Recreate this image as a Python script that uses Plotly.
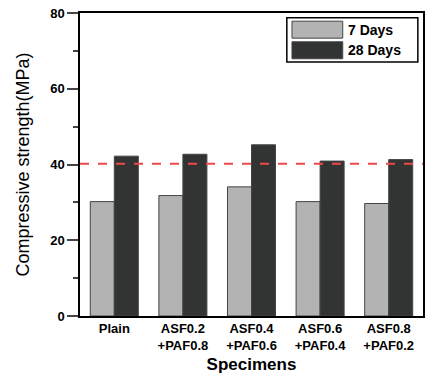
import plotly.graph_objects as go

categories = ["Plain", "ASF0.2<br>+PAF0.8", "ASF0.4<br>+PAF0.6", "ASF0.6<br>+PAF0.4", "ASF0.8<br>+PAF0.2"]
days7 = [30.2, 31.8, 34.1, 30.2, 29.7]
days28 = [42.2, 42.7, 45.2, 40.9, 41.3]
reference = 40.2
series_names = ["7 Days", "28 Days"]
colors = ["#b3b3b3", "#323333"]

fig = go.Figure()
for name, vals, col in zip(series_names, [days7, days28], colors):
    fig.add_trace(go.Bar(x=categories, y=vals, name=name, marker=dict(color=col, line=dict(color="#444444", width=1)),
                         showlegend=False))

fig.add_shape(type="line", xref="paper", x0=0, x1=1, yref="y", y0=reference, y1=reference,
              line=dict(color="#f04848", width=2, dash="dash"))

# manual legend
fig.add_shape(type="rect", xref="paper", yref="paper", x0=0.603, x1=0.985, y0=0.838, y1=0.984,
              line=dict(color="black", width=1.5), fillcolor="white")
for i, (name, col) in enumerate(zip(series_names, colors)):
    yc = 0.945 - i * 0.068
    fig.add_shape(type="rect", xref="paper", yref="paper", x0=0.618, x1=0.766, y0=yc - 0.028, y1=yc + 0.028,
                  line=dict(color="#444444", width=1), fillcolor=col)
    fig.add_annotation(xref="paper", yref="paper", x=0.776, y=yc, text=name, showarrow=False,
                       xanchor="left", yanchor="middle",
                       font=dict(family="Liberation Sans, Arial", size=14, color="black", weight="bold"))

fig.update_layout(
    width=433, height=379,
    margin=dict(l=80, r=10, t=13, b=63),
    plot_bgcolor="white", paper_bgcolor="white",
    barmode="group", bargap=0.3, bargroupgap=0,
    font=dict(family="Liberation Sans, Arial", color="black"),
)
fig.update_xaxes(showline=True, mirror=True, linecolor="black", linewidth=1.5, ticks="",
                 range=[-0.5, 4.5], automargin=False,
                 tickfont=dict(size=13, weight="bold"),
                 title=dict(text="Specimens", font=dict(size=17, weight="bold"), standoff=6))
fig.update_yaxes(showline=True, mirror=True, linecolor="black", linewidth=1.5, range=[0, 80],
                 tickvals=[0, 20, 40, 60, 80], ticks="outside", ticklen=11, tickwidth=1.5,
                 showgrid=False, zeroline=False, automargin=False,
                 minor=dict(tickvals=[10, 30, 50, 70], ticks="outside", ticklen=5, tickwidth=1.5, showgrid=False),
                 tickfont=dict(size=13, weight="bold"),
                 title=dict(text="Compressive strength(MPa)", font=dict(size=18), standoff=16))

fig.write_html("out.html")
